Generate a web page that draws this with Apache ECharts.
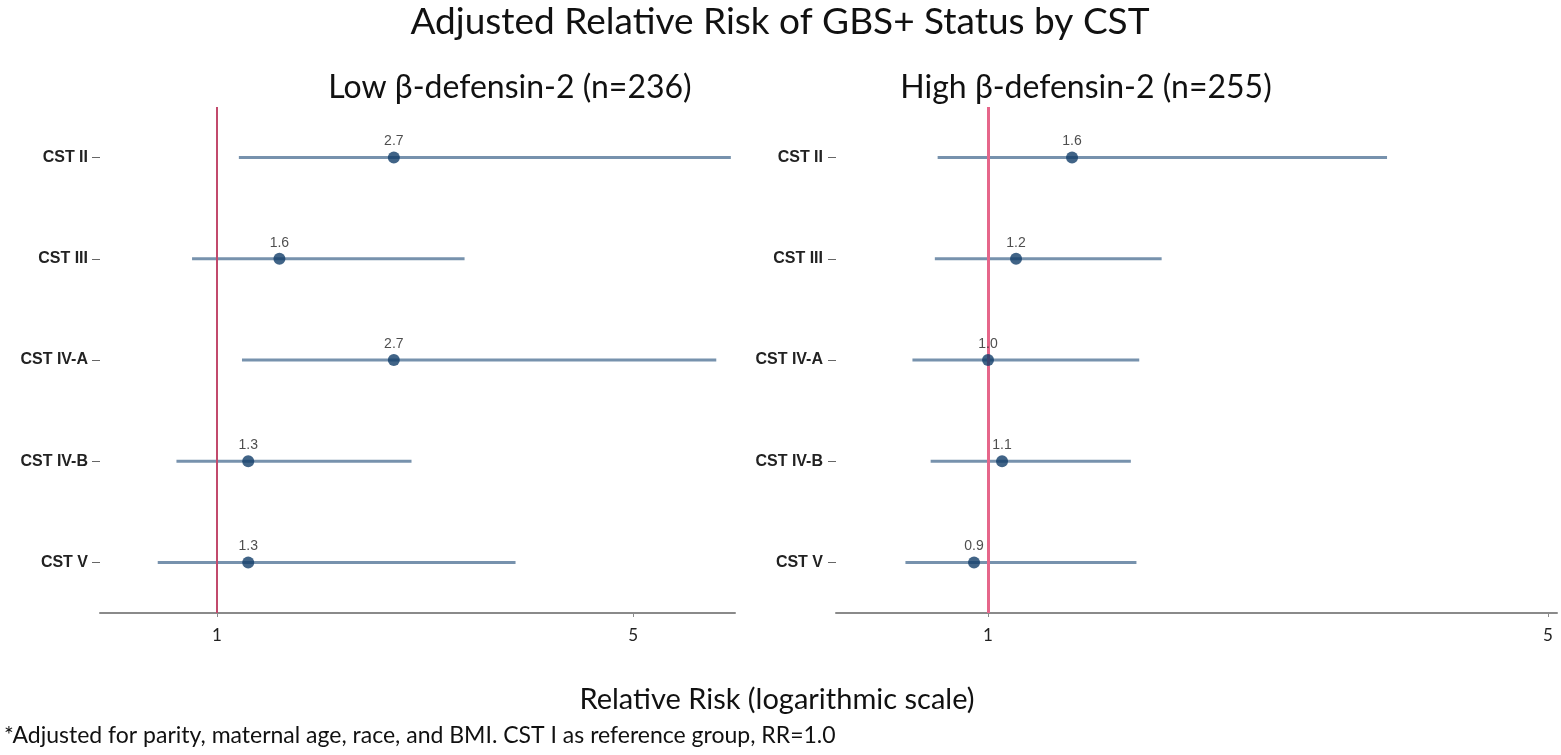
<!DOCTYPE html>
<html><head><meta charset="utf-8">
<script src="https://cdn.jsdelivr.net/npm/echarts@6/dist/echarts.min.js"></script>
<style>html,body{margin:0;padding:0;background:#fff}#c{width:1561px;height:755px}</style>
</head><body><div id="c"></div>
<script>
const categories = ['CST II','CST III','CST IV-A','CST IV-B','CST V'];
const lowRR = [2.7, 1.6, 2.7, 1.3, 1.3];
const lowLo = [1.21, 0.76, 1.24, 0.61, 0.43];
const lowHi = [5.94, 3.38, 5.80, 2.87, 3.87];
const highRR = [1.6, 1.2, 1.0, 1.1, 0.9];
const highLo = [0.64, 0.62, 0.46, 0.59, 0.41];
const highHi = [3.85, 2.24, 2.08, 2.02, 2.06];
const tickValues = [1, 5];
const titleText = 'Adjusted Relative Risk of GBS+ Status by CST';
const panelTitles = ['Low β-defensin-2 (n=236)', 'High β-defensin-2 (n=255)'];
const xAxisName = 'Relative Risk (logarithmic scale)';
const footnote = '*Adjusted for parity, maternal age, race, and BMI. CST I as reference group, RR=1.0';

const chart = echarts.init(document.getElementById('c'));
const FONT = 'Lato, "Open Sans", sans-serif';
const LABFONT = '"Liberation Sans", Arial, sans-serif';

function ciData(lo, hi){ return categories.map((c,i)=>[lo[i], hi[i], i]); }
function ptData(rr){ return categories.map((c,i)=>[rr[i], i]); }

function ciSeries(idx, lo, hi){
  return {
    type:'custom', xAxisIndex:idx, yAxisIndex:idx, z:2,
    data: ciData(lo, hi),
    encode:{x:[0,1], y:2},
    renderItem(params, api){
      const a = api.coord([api.value(0), api.value(2)]);
      const b = api.coord([api.value(1), api.value(2)]);
      return {type:'line', shape:{x1:a[0],y1:a[1],x2:b[0],y2:b[1]},
        style:{stroke:'#7792ad', lineWidth:3}};
    }
  };
}
function ptSeries(idx, rr, refColor, refWidth){
  return {
    type:'scatter', xAxisIndex:idx, yAxisIndex:idx, z:4,
    data: ptData(rr), symbolSize:12,
    itemStyle:{color:'#113d69'},
    label:{show:true, position:'top', distance:3, fontSize:14, color:'#222', fontFamily:LABFONT,
      formatter:p=>p.value[0].toFixed(1)},
    markLine:{silent:true, symbol:'none', z:3, label:{show:false},
      lineStyle:{color:refColor, width:refWidth, type:'solid'},
      data:[{xAxis:1}]}
  };
}
function xAxisCfg(idx, min, max){
  return {type:'value', gridIndex:idx, min, max,
    splitLine:{show:false},
    axisLine:{show:true, onZero:false, lineStyle:{color:'#8a8a8a', width:2}},
    axisTick:{show:true, customValues:tickValues, length:4, lineStyle:{color:'#8a8a8a'}},
    axisLabel:{customValues:tickValues, fontSize:17, color:'#222', margin:14, fontFamily:FONT,
      formatter:v=>String(v)}
  };
}
function yAxisCfg(idx, margin){
  return {type:'category', gridIndex:idx, data:categories, inverse:true,
    axisLine:{show:false, onZero:false},
    axisTick:{show:true, length:8, alignWithLabel:true, lineStyle:{color:'#666'}},
    axisLabel:{fontSize:16, fontWeight:'bold', color:'#222', margin, fontFamily:LABFONT},
    splitLine:{show:false}
  };
}

chart.setOption({
  animation:false,
  backgroundColor:'#fff',
  grid:[
    {left:100, width:635, top:107, height:506},
    {left:836, width:721, top:107, height:506}
  ],
  xAxis:[xAxisCfg(0, -0.125, 5.98), xAxisCfg(1, -0.086, 5.064)],
  yAxis:[yAxisCfg(0, 12), yAxisCfg(1, 13)],
  series:[
    ciSeries(0, lowLo, lowHi), ptSeries(0, lowRR, '#c24a6c', 2),
    ciSeries(1, highLo, highHi), ptSeries(1, highRR, '#e6668a', 3)
  ],
  graphic:[
    {type:'text', x:780, y:22, style:{text:titleText, font:'37px '+FONT, fill:'#111', align:'center', verticalAlign:'middle'}},
    {type:'text', x:510, y:88, style:{text:panelTitles[0], font:'32px '+FONT, fill:'#111', align:'center', verticalAlign:'middle'}},
    {type:'text', x:1086, y:88, style:{text:panelTitles[1], font:'32px '+FONT, fill:'#111', align:'center', verticalAlign:'middle'}},
    {type:'text', x:777, y:700, style:{text:xAxisName, font:'29px '+FONT, fill:'#111', align:'center', verticalAlign:'middle'}},
    {type:'text', x:4, y:736, style:{text:footnote, font:'23px '+FONT, fill:'#111', align:'left', verticalAlign:'middle'}}
  ]
});
</script></body></html>
